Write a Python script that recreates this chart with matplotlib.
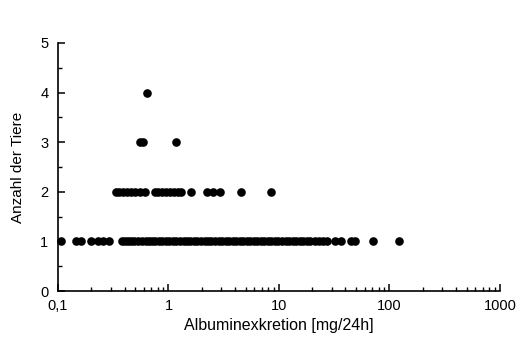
import numpy as np
import matplotlib
matplotlib.use("Agg")
import matplotlib.pyplot as plt
from matplotlib.ticker import FixedLocator, FixedFormatter, LogLocator, NullFormatter

plt.rcParams["font.family"] = ["Liberation Sans", "DejaVu Sans"]

# Albuminexkretion [mg/24h] pro Anzahl der Tiere
werte_1 = [0.106, 0.146, 0.161, 0.197, 0.230, 0.255, 0.289,
           0.376, 0.40, 0.43, 0.46, 0.49, 0.53, 0.57, 0.62, 0.66, 0.71,
           0.76, 0.82, 0.88, 0.95, 1.02, 1.10, 1.18, 1.27, 1.37, 1.47,
           1.58, 1.70, 1.83, 1.97, 2.12, 2.28, 2.45, 2.64, 2.84, 3.05,
           3.30, 3.55, 3.80, 4.10, 4.40, 4.75, 5.10, 5.50, 5.90, 6.35,
           6.85, 7.40, 7.95, 8.55, 9.20, 9.90, 10.7, 11.5, 12.4, 13.3,
           14.3, 15.4, 16.6, 17.9, 19.3, 21.0, 23.0, 25.0, 27.2,
           32.1, 36.4, 44.8, 48.7, 70.9, 122.0]
werte_2 = [0.332, 0.36, 0.39, 0.42, 0.46, 0.50, 0.55, 0.61,
           0.75, 0.81, 0.88, 0.95, 1.03, 1.12, 1.21, 1.31,
           1.60, 2.25, 2.55, 2.90, 4.53, 8.47]
werte_3 = [0.55, 0.59, 1.18]
werte_4 = [0.635]

x_ticks = [0.1, 1, 10, 100, 1000]
x_labels = ["0,1", "1", "10", "100", "1000"]

fig = plt.figure(figsize=(5.18, 3.44), dpi=100)
ax = fig.add_axes([0.112, 0.154, 0.853, 0.721])

for n, werte in [(1, werte_1), (2, werte_2), (3, werte_3), (4, werte_4)]:
    ax.plot(werte, [n] * len(werte), "o", color="black", markersize=6.2,
            markeredgewidth=0, clip_on=False)

ax.set_xscale("log")
ax.set_xlim(0.1, 1000)
ax.set_ylim(0, 5)
ax.xaxis.set_major_locator(FixedLocator(x_ticks))
ax.xaxis.set_major_formatter(FixedFormatter(x_labels))
ax.xaxis.set_minor_locator(LogLocator(base=10, subs=np.arange(2, 10)))
ax.xaxis.set_minor_formatter(NullFormatter())
ax.set_yticks([0, 1, 2, 3, 4, 5])
ax.set_yticks([0.5, 1.5, 2.5, 3.5, 4.5], minor=True)

for s in ["top", "right"]:
    ax.spines[s].set_visible(False)
for s in ["left", "bottom"]:
    ax.spines[s].set_linewidth(1.2)

ax.tick_params(which="major", direction="in", length=5, width=1.1, labelsize=10.5)
ax.tick_params(axis="y", which="major", pad=7)
ax.tick_params(axis="x", which="major", pad=6)
ax.tick_params(which="minor", direction="in", length=3, width=1.0)

ax.set_xlabel("Albuminexkretion [mg/24h]", fontsize=11.5, labelpad=3)
ax.set_ylabel("Anzahl der Tiere", fontsize=11, labelpad=11)

fig.savefig("out.png", dpi=100)
